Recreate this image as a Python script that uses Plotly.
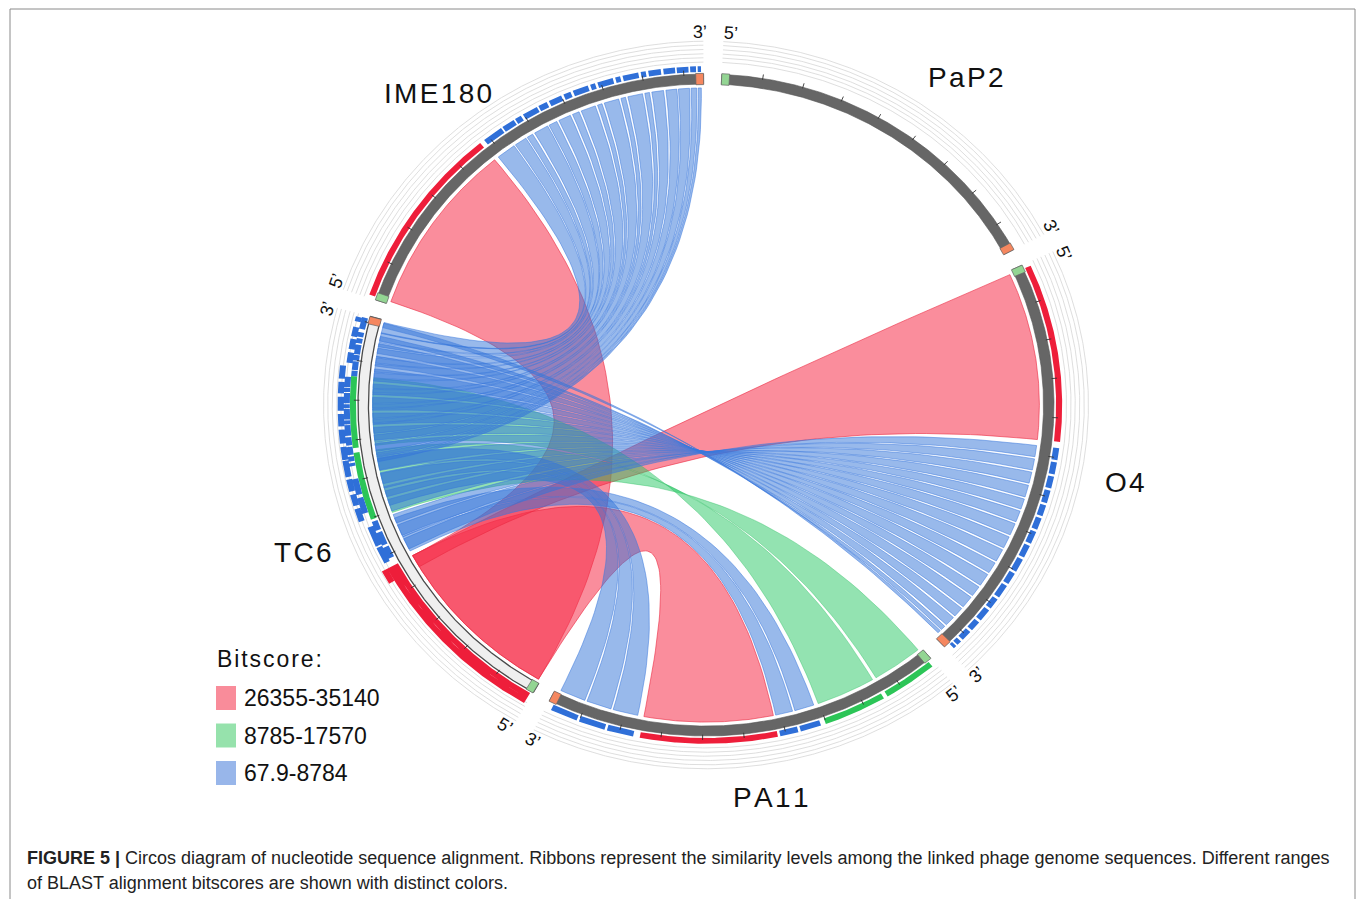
import numpy as np
import plotly.graph_objects as go

# ------------------------------------------------------------------ data
GENOMES = ["PaP2", "O4", "PA11", "TC6", "IME180"]
GENOME_KB = [43.8, 52.9, 49.3, 55.8, 52.4]

# alignments: (genome A, A start kb, A end kb, genome B, B start kb, B end kb)
# B start > B end means the alignment is on the reverse strand (twisted ribbon)
HIGH_LINKS = [  # bitscore 26355-35140
    ("IME180", 0.4, 23.7, "TC6", 0.3, 23.5),
    ("PA11", 21.0, 37.5, "TC6", 0.3, 23.5),
    ("O4", 0.5, 23.0, "TC6", 21.8, 23.5),
]
MID_LINKS = [  # bitscore 8785-17570
    ("TC6", 29.8, 38.4, "PA11", 7.0, 0.5),
    ("TC6", 39.0, 48.0, "PA11", 15.1, 7.5),
]
LOW_LINKS = [  # bitscore 67.9-8784
    ("IME180", 24.3, 26.8, "TC6", 54.0, 55.5),
    ("IME180", 27.0, 28.6, "TC6", 52.9, 54.1),
    ("IME180", 28.8, 29.6, "TC6", 52.2, 52.8),
    ("IME180", 29.9, 31.8, "TC6", 50.8, 52.0),
    ("IME180", 32.0, 33.1, "TC6", 50.0, 50.7),
    ("IME180", 33.4, 35.0, "TC6", 48.8, 49.9),
    ("IME180", 35.3, 36.2, "TC6", 48.0, 48.7),
    ("IME180", 36.5, 38.4, "TC6", 46.6, 47.9),
    ("IME180", 38.7, 39.3, "TC6", 46.0, 46.5),
    ("IME180", 39.6, 41.5, "TC6", 44.6, 45.9),
    ("IME180", 41.8, 42.4, "TC6", 44.0, 44.5),
    ("IME180", 42.7, 44.6, "TC6", 42.6, 43.9),
    ("IME180", 44.9, 45.5, "TC6", 42.0, 42.5),
    ("IME180", 45.8, 47.3, "TC6", 40.6, 41.9),
    ("IME180", 47.6, 49.0, "TC6", 39.4, 40.4),
    ("IME180", 49.2, 50.6, "TC6", 38.2, 39.2),
    ("IME180", 50.8, 51.5, "TC6", 37.4, 38.0),
    ("IME180", 51.7, 52.1, "TC6", 36.8, 37.2),
    ("PA11", 38.3, 41.5, "TC6", 35.6, 37.6),
    ("PA11", 41.8, 45.0, "TC6", 33.2, 35.2),
    ("PA11", 45.3, 48.6, "TC6", 30.8, 32.8),
    ("TC6", 24.5, 26.0, "O4", 25.3, 23.8),
    ("TC6", 26.3, 28.0, "O4", 27.1, 25.6),
    ("TC6", 28.3, 29.5, "O4", 28.9, 27.4),
    ("TC6", 30.0, 31.6, "O4", 30.8, 29.2),
    ("TC6", 32.0, 33.4, "O4", 32.5, 31.1),
    ("TC6", 33.8, 35.3, "O4", 34.3, 32.8),
    ("TC6", 35.7, 37.3, "O4", 36.2, 34.6),
    ("TC6", 37.7, 39.3, "O4", 38.1, 36.5),
    ("TC6", 39.7, 41.4, "O4", 40.1, 38.4),
    ("TC6", 41.8, 43.3, "O4", 41.9, 40.4),
    ("TC6", 43.7, 45.4, "O4", 43.9, 42.2),
    ("TC6", 45.8, 47.2, "O4", 45.6, 44.2),
    ("TC6", 47.6, 49.2, "O4", 47.5, 45.9),
    ("TC6", 49.6, 50.9, "O4", 49.1, 47.8),
    ("TC6", 51.3, 52.6, "O4", 50.7, 49.4),
    ("TC6", 53.0, 53.6, "O4", 51.6, 51.0),
    ("TC6", 54.8, 55.4, "O4", 52.2, 51.8),
    ("PA11", 15.7, 18.2, "TC6", 26.5, 29.0),
    ("PA11", 18.5, 20.7, "TC6", 24.2, 26.3),
]

LEGEND_TITLE = "Bitscore:"
LEGEND_LABELS = ["26355-35140", "8785-17570", "67.9-8784"]
NAME_LABEL_DEG = [37.0, 101.0, 171.0, 249.0, 320.7]
NAME_LABEL_R = [1.24, 1.226, 1.20, 1.24, 1.215]
CAPTION_1 = ("<b>FIGURE 5 |</b> Circos diagram of nucleotide sequence alignment. Ribbons represent "
             "the similarity levels among the linked phage genome sequences. Different ranges")
CAPTION_2 = "of BLAST alignment bitscores are shown with distinct colors."

# ------------------------------------------------------------------ geometry / style
W, H = 1360, 899
CX, CY, RX, RY = 706.0, 405.0, 348.0, 331.0
START_DEG, GAP_DEG = 2.6, 3.0
DEG_PER_KB = (360.0 - GAP_DEG * len(GENOMES)) / sum(GENOME_KB)
R_IDEO_OUT, R_IDEO_IN, R_LINK = 1.0, 0.970, 0.958
R_TILE0, TILE_H, MAX_LAYER = 1.006, 0.0175, 2
GRID_R = [1.036, 1.049, 1.061, 1.074, 1.087, 1.099]

FILL = {"high": "rgba(245,45,72,0.54)", "mid": "rgba(40,200,100,0.5)", "low": "rgba(50,115,215,0.5)"}
EDGE = {"high": "rgba(235,40,65,0.85)", "mid": "rgba(40,190,95,0.55)", "low": "rgba(60,120,220,0.75)"}
TILE = {"high": "#EE1E3A", "mid": "#2CC557", "low": "#2F6FD8"}
LEGEND_SWATCH = ["#F98C9A", "#96E2AC", "#98B6EA"]
FONT = "Liberation Sans, Arial, sans-serif"

g_start, g_end = {}, {}
acc = START_DEG
for g, L in zip(GENOMES, GENOME_KB):
    g_start[g] = acc
    g_end[g] = acc + L * DEG_PER_KB
    acc = g_end[g] + GAP_DEG


def ang(g, kb):
    return g_start[g] + kb * DEG_PER_KB


def xy(theta, r):
    t = np.radians(theta)
    return CX + r * RX * np.sin(t), CY - r * RY * np.cos(t)


def arc(t0, t1, r):
    n = max(4, int(abs(t1 - t0) * 4) + 2)
    th = np.linspace(t0, t1, n)
    return xy(th, r)


def bez(p0, p2, n=60):
    t = np.linspace(0, 1, n)
    x = (1 - t) ** 2 * p0[0] + 2 * t * (1 - t) * CX + t ** 2 * p2[0]
    y = (1 - t) ** 2 * p0[1] + 2 * t * (1 - t) * CY + t ** 2 * p2[1]
    return x, y


def band(t0, t1, r0, r1):
    x1, y1 = arc(t0, t1, r1)
    x0, y0 = arc(t1, t0, r0)
    return np.concatenate([x1, x0, x1[:1]]), np.concatenate([y1, y0, y1[:1]])


def ribbon(link):
    # arc on A, bezier to first listed end of B, arc on B, bezier back;
    # a reversed B interval (start > end) therefore gives a twisted ribbon
    ga, a0, a1, gb, b0, b1 = link
    ax, ay = arc(ang(ga, a0), ang(ga, a1), R_LINK)
    bx, by = arc(ang(gb, b0), ang(gb, b1), R_LINK)
    c1x, c1y = bez((ax[-1], ay[-1]), (bx[0], by[0]))
    c2x, c2y = bez((bx[-1], by[-1]), (ax[0], ay[0]))
    return (np.concatenate([ax, c1x, bx, c2x]), np.concatenate([ay, c1y, by, c2y]))


def join(polys):
    xs, ys = [], []
    for x, y in polys:
        xs += list(x) + [None]
        ys += list(y) + [None]
    return xs, ys


fig = go.Figure()

# grid arcs outside each ideogram
polys = []
for g in GENOMES:
    for r in GRID_R:
        polys.append(arc(g_start[g], g_end[g], r))
gx, gy = join(polys)
fig.add_trace(go.Scatter(x=gx, y=gy, mode="lines", line=dict(color="#d6d6d6", width=0.8),
                         hoverinfo="skip", showlegend=False))

# highlight tiles (alignment coverage), stacked in layers
layers = {g: [] for g in GENOMES}
tiles = {"high": [], "mid": [], "low": []}
for key, links in (("high", HIGH_LINKS), ("mid", MID_LINKS), ("low", LOW_LINKS)):
    for ga, a0, a1, gb, b0, b1 in links:
        for g, s, e in ((ga, a0, a1), (gb, min(b0, b1), max(b0, b1))):
            lv = 0
            while lv < MAX_LAYER and any(not (e <= s2 or s >= e2)
                                         for (s2, e2, l2) in layers[g] if l2 == lv):
                lv += 1
            layers[g].append((s, e, lv))
            r0 = R_TILE0 + lv * TILE_H
            tiles[key].append(band(ang(g, s), ang(g, e), r0, r0 + TILE_H))
for key in ("high", "mid", "low"):
    tx, ty = join(tiles[key])
    fig.add_trace(go.Scatter(x=tx, y=ty, mode="lines", fill="toself", fillcolor=TILE[key],
                             line=dict(width=0), hoverinfo="skip", showlegend=False))

# ideograms
for g in GENOMES:
    x, y = band(g_start[g], g_end[g], R_IDEO_IN, R_IDEO_OUT)
    if g == "TC6":
        fig.add_trace(go.Scatter(x=x, y=y, mode="lines", fill="toself", fillcolor="#efefef",
                                 line=dict(color="#4a4a4a", width=1.3), hoverinfo="skip", showlegend=False))
    else:
        fig.add_trace(go.Scatter(x=x, y=y, mode="lines", fill="toself", fillcolor="#666666",
                                 line=dict(color="#555555", width=0.6), hoverinfo="skip", showlegend=False))

# ticks every 5 kb
tk = []
for g, L in zip(GENOMES, GENOME_KB):
    for kb in np.arange(5, L, 5):
        x0, y0 = xy(ang(g, kb), R_IDEO_OUT - 0.004)
        x1, y1 = xy(ang(g, kb), R_IDEO_OUT + 0.012)
        tk.append(([x0, x1], [y0, y1]))
kx, ky = join(tk)
fig.add_trace(go.Scatter(x=kx, y=ky, mode="lines", line=dict(color="#333333", width=0.9),
                         hoverinfo="skip", showlegend=False))

# 5' / 3' end markers
for col, which in (("#93d593", "start"), ("#f5875f", "end")):
    polys = []
    for g in GENOMES:
        if which == "start":
            polys.append(band(g_start[g], g_start[g] + 1.3, R_IDEO_IN - 0.002, R_IDEO_OUT + 0.002))
        else:
            polys.append(band(g_end[g] - 1.3, g_end[g], R_IDEO_IN - 0.002, R_IDEO_OUT + 0.002))
    mx, my = join(polys)
    fig.add_trace(go.Scatter(x=mx, y=my, mode="lines", fill="toself", fillcolor=col,
                             line=dict(color="#666666", width=0.7), hoverinfo="skip", showlegend=False))

# ribbons
for key, links in (("high", HIGH_LINKS), ("mid", MID_LINKS), ("low", LOW_LINKS)):
    for lk in links:
        x, y = ribbon(lk)
        fig.add_trace(go.Scatter(x=x, y=y, mode="lines", fill="toself", fillcolor=FILL[key],
                                 line=dict(color=EDGE[key], width=0.7), hoverinfo="skip",
                                 showlegend=False))

annotations = []
# genome names
for g, th, r in zip(GENOMES, NAME_LABEL_DEG, NAME_LABEL_R):
    x, y = xy(th, r)
    annotations.append(dict(x=x, y=y, text="\u200a".join(g), showarrow=False,
                            font=dict(family=FONT, size=28, color="#111111"),
                            xanchor="center", yanchor="middle"))
# 5'/3' labels
for g in GENOMES:
    for th, txt in ((g_start[g] + 1.0, "5\u2019"), (g_end[g] - 0.5, "3\u2019")):
        x, y = xy(th, 1.127)
        t = th % 360
        rot = t if (t <= 90 or t >= 270) else t - 180
        if rot > 180:
            rot -= 360
        annotations.append(dict(x=x, y=y, text=txt, showarrow=False, textangle=rot,
                                font=dict(family=FONT, size=18, color="#111111"),
                                xanchor="center", yanchor="middle"))

# legend
annotations.append(dict(x=215, y=659, text="\u200a".join(LEGEND_TITLE), showarrow=False,
                        xanchor="left", yanchor="middle",
                        font=dict(family=FONT, size=23, color="#111111")))
shapes = []
for i, (lab, col) in enumerate(zip(LEGEND_LABELS, LEGEND_SWATCH)):
    yc = 698 + i * 37.5
    shapes.append(dict(type="rect", xref="x", yref="y", x0=216, x1=236, y0=yc - 12, y1=yc + 12,
                       fillcolor=col, line=dict(width=0)))
    annotations.append(dict(x=242, y=yc, text=lab, showarrow=False, xanchor="left", yanchor="middle",
                            font=dict(family=FONT, size=23, color="#111111")))

# caption
annotations.append(dict(x=25, y=858, text=CAPTION_1, showarrow=False, xanchor="left", yanchor="middle",
                        font=dict(family=FONT, size=18, color="#222222")))
annotations.append(dict(x=25, y=883, text=CAPTION_2, showarrow=False, xanchor="left", yanchor="middle",
                        font=dict(family=FONT, size=18, color="#222222")))

# frame
shapes.append(dict(type="rect", xref="x", yref="y", x0=10, x1=1355, y0=9, y1=940,
                   line=dict(color="#8a8a8a", width=1), fillcolor="rgba(0,0,0,0)"))

fig.update_layout(
    width=W, height=H, margin=dict(l=0, r=0, t=0, b=0),
    paper_bgcolor="white", plot_bgcolor="white",
    xaxis=dict(range=[0, W], visible=False, fixedrange=True),
    yaxis=dict(range=[H, 0], visible=False, fixedrange=True),
    annotations=annotations, shapes=shapes, showlegend=False,
)
fig.write_html("out.html", config={"displayModeBar": False},
               post_script="document.body.style.margin='0px';")
